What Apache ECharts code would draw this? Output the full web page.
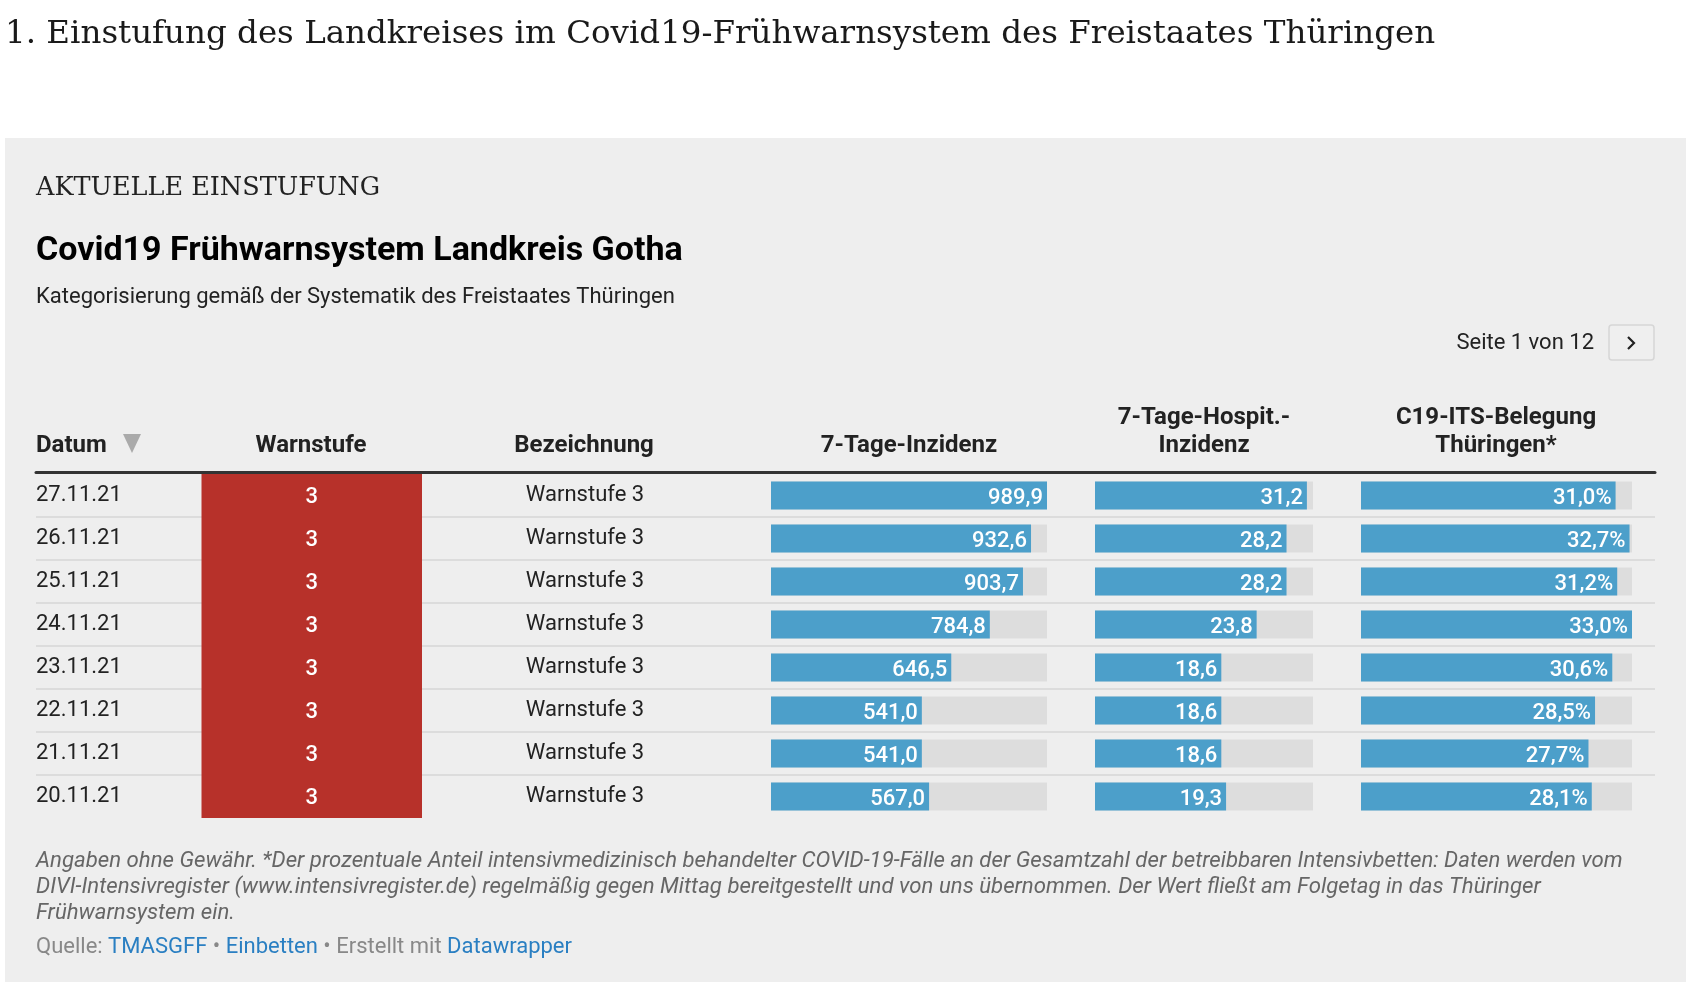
<!DOCTYPE html>
<html>
<head>
<meta charset="utf-8">
<script src="https://cdn.jsdelivr.net/npm/echarts@6/dist/echarts.min.js"></script>
<style>
html,body{margin:0;padding:0;background:#fff;}
#chart{width:1690px;height:982px;}
</style>
</head>
<body>
<div id="chart"></div>
<script>
// ---- data ----
const dates = ['27.11.21','26.11.21','25.11.21','24.11.21','23.11.21','22.11.21','21.11.21','20.11.21'];
const warnstufe = [3,3,3,3,3,3,3,3];
const bezeichnung = ['Warnstufe 3','Warnstufe 3','Warnstufe 3','Warnstufe 3','Warnstufe 3','Warnstufe 3','Warnstufe 3','Warnstufe 3'];
const inzidenz = [989.9,932.6,903.7,784.8,646.5,541.0,541.0,567.0];
const hospInzidenz = [31.2,28.2,28.2,23.8,18.6,18.6,18.6,19.3];
const itsBelegung = [31.0,32.7,31.2,33.0,30.6,28.5,27.7,28.1];
const columnHeaders = ['Datum','Warnstufe','Bezeichnung','7-Tage-Inzidenz','7-Tage-Hospit.-\nInzidenz','C19-ITS-Belegung\nThüringen*'];

const FONT = 'Roboto';
const fmt = (v, d) => v.toFixed(d).replace('.', ',');
const ROW_TOP = 474, ROW_H = 344;
const BLUE = '#4c9fca', BG = '#dddddd';

const chart = echarts.init(document.getElementById('chart'), null, {renderer:'canvas'});

function barGrid(left, width){ return {left:left, width:width, top:ROW_TOP, height:ROW_H}; }
function hiddenX(gi, max){ return {type:'value', gridIndex:gi, min:0, max:max, show:false}; }
function hiddenY(gi){ return {type:'category', gridIndex:gi, data:dates, inverse:true, show:false}; }
function numSeries(gi, data, dec, suffix){
  return {
    type:'bar', xAxisIndex:gi, yAxisIndex:gi, data:data, barWidth:28,
    itemStyle:{color:BLUE}, showBackground:true, backgroundStyle:{color:BG},
    label:{show:true, position:'insideRight', distance:4, offset:[0,3], color:'#fff',
      fontFamily:FONT, fontSize:22, fontWeight:500,
      formatter:p=>fmt(p.value, dec)+suffix},
    silent:true, z:3
  };
}

const headerBottom = 460;
function hdr(text, x, align){
  return {type:'text', x:x, y:headerBottom, style:{text:text, fontFamily:FONT, fontSize:24, fontWeight:'bold',
    fill:'#222', align:align, verticalAlign:'bottom', lineHeight:28}, z:10};
}

const option = {
  animation:false,
  backgroundColor:'#ffffff',
  grid:[
    {left:36, right:35, top:ROW_TOP, height:ROW_H},
    barGrid(201.5, 220.5),
    barGrid(771, 276),
    barGrid(1095, 218),
    barGrid(1361, 271)
  ],
  xAxis:[
    {type:'value', gridIndex:0, position:'top', offset:1.5, min:0, max:1,
      axisLine:{show:true, lineStyle:{color:'#333', width:3}}, axisTick:{show:false},
      axisLabel:{show:false}, splitLine:{show:false}},
    hiddenX(1, 3),
    hiddenX(2, 989.9),
    hiddenX(3, 32.1),
    hiddenX(4, 33.0)
  ],
  yAxis:[
    {type:'category', gridIndex:0, data:dates, inverse:true,
      axisLine:{show:false}, axisTick:{show:false},
      axisLabel:{show:true, inside:true, margin:0, color:'#222', fontFamily:FONT, fontSize:22, align:'left',
        padding:[6,0,0,0]},
      splitLine:{show:true, showMinLine:false, showMaxLine:false, lineStyle:{color:'#dcdcdc', width:2}}},
    hiddenY(1),
    hiddenY(2),
    hiddenY(3),
    hiddenY(4),
    {type:'category', gridIndex:1, data:dates, inverse:true, position:'right',
      axisLine:{show:false}, axisTick:{show:false}, splitLine:{show:false},
      axisLabel:{show:true, margin:163, align:'center', color:'#222', fontFamily:FONT, fontSize:22,
        padding:[6,0,0,0], formatter:(v, i)=>bezeichnung[i]}}
  ],
  series:[
    {type:'bar', xAxisIndex:1, yAxisIndex:1, data:warnstufe, barWidth:'100%', barCategoryGap:0,
      itemStyle:{color:'#b7312a'}, silent:true, z:3,
      label:{show:true, position:'inside', offset:[0,2], color:'#fff', fontFamily:FONT, fontSize:22, fontWeight:500,
        formatter:p=>String(p.value)}},
    numSeries(2, inzidenz, 1, ''),
    numSeries(3, hospInzidenz, 1, ''),
    numSeries(4, itsBelegung, 1, '%')
  ],
  graphic:[
    {type:'rect', shape:{x:5, y:138, width:1681, height:850}, style:{fill:'#eeeeee'}, z:-10, silent:true},
    {type:'text', x:5, y:35, style:{text:'1. Einstufung des Landkreises im Covid19-Frühwarnsystem des Freistaates Thüringen',
      fontFamily:'DejaVu Serif', fontSize:32.5, fill:'#1a1a1a', verticalAlign:'middle'}},
    {type:'text', x:36, y:188, style:{text:'AKTUELLE EINSTUFUNG', fontFamily:'DejaVu Serif', fontSize:25.5, fill:'#222', verticalAlign:'middle'}},
    {type:'text', x:36, y:251, style:{text:'Covid19 Frühwarnsystem Landkreis Gotha', fontFamily:FONT, fontSize:34, fontWeight:'bold', fill:'#000', verticalAlign:'middle'}},
    {type:'text', x:36, y:297, style:{text:'Kategorisierung gemäß der Systematik des Freistaates Thüringen', fontFamily:FONT, fontSize:22, fill:'#222', verticalAlign:'middle'}},
    {type:'text', x:1594, y:343, style:{text:'Seite 1 von 12', fontFamily:FONT, fontSize:22, fill:'#222', align:'right', verticalAlign:'middle'}},
    {type:'rect', shape:{x:1609, y:325, width:45, height:35, r:3}, style:{fill:'#efefef', stroke:'#d6d6d6', lineWidth:1.5}},
    {type:'polyline', shape:{points:[[1628,337],[1634,343],[1628,349]]}, style:{stroke:'#222', lineWidth:2.2, fill:null}},
    hdr(columnHeaders[0], 36, 'left'),
    {type:'polygon', shape:{points:[[123,434],[141,434],[132,453]]}, style:{fill:'#aaaaaa'}},
    hdr(columnHeaders[1], 311, 'center'),
    hdr(columnHeaders[2], 584, 'center'),
    hdr(columnHeaders[3], 909, 'center'),
    hdr(columnHeaders[4], 1204, 'center'),
    hdr(columnHeaders[5], 1496, 'center'),
    {type:'text', x:36, y:848, style:{text:'Angaben ohne Gewähr. *Der prozentuale Anteil intensivmedizinisch behandelter COVID-19-Fälle an der Gesamtzahl der betreibbaren Intensivbetten: Daten werden vom\nDIVI-Intensivregister (www.intensivregister.de) regelmäßig gegen Mittag bereitgestellt und von uns übernommen. Der Wert fließt am Folgetag in das Thüringer\nFrühwarnsystem ein.',
      fontFamily:FONT, fontSize:22.2, fontStyle:'italic', fill:'#666', lineHeight:26, verticalAlign:'top'}},
    {type:'text', x:36, y:947, style:{
      text:'{g|Quelle: }{b|TMASGFF}{g| • }{b|Einbetten}{g| • Erstellt mit }{b|Datawrapper}',
      verticalAlign:'middle',
      rich:{g:{fontFamily:FONT, fontSize:22, fill:'#888'}, b:{fontFamily:FONT, fontSize:22, fill:'#2a7fc2'}}}}
  ]
};
chart.setOption(option);
</script>
</body>
</html>
